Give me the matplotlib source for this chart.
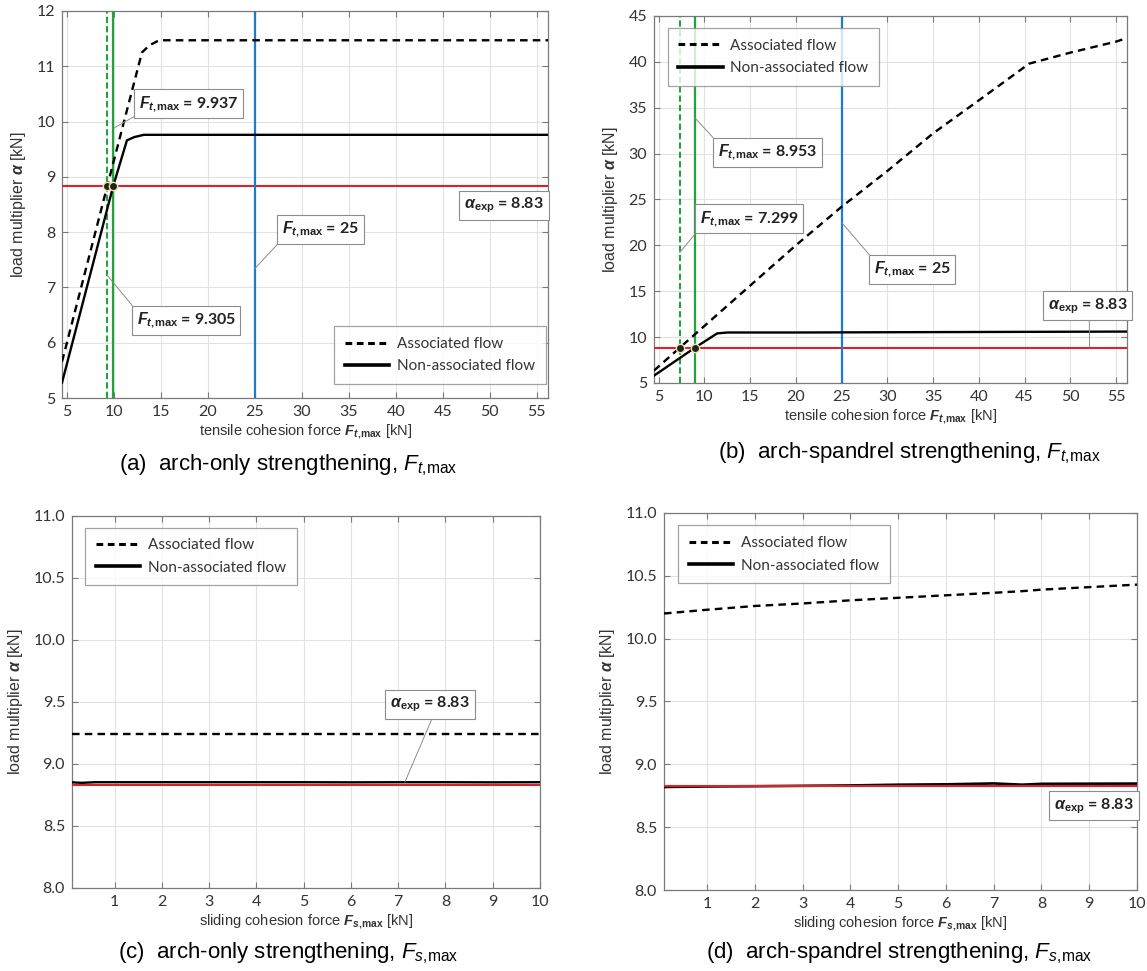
import matplotlib

matplotlib.use("Agg")
import matplotlib.pyplot as plt
from matplotlib.lines import Line2D

plt.rcParams["font.family"] = ["Lato", "DejaVu Sans"]
plt.rcParams["mathtext.fontset"] = "custom"
plt.rcParams["mathtext.rm"] = "Liberation Sans"
plt.rcParams["mathtext.it"] = "Liberation Sans:italic"
plt.rcParams["mathtext.bf"] = "Liberation Sans:bold"
plt.rcParams["mathtext.bfit"] = "Liberation Sans:italic:bold"

# (a) arch-only strengthening, tensile cohesion F_t,max
a_x_assoc = [4.5, 9.305, 13.0, 13.8, 14.6, 15.2, 56.2]
a_y_assoc = [5.66, 8.83, 11.25, 11.38, 11.45, 11.47, 11.47]
a_x_nonassoc = [4.5, 9.937, 11.4, 12.2, 13.2, 56.2]
a_y_nonassoc = [5.28, 8.83, 9.66, 9.72, 9.76, 9.76]

# (b) arch-spandrel strengthening, tensile cohesion F_t,max
b_x_assoc = [4.5, 7.299, 20.0, 25.0, 30.0, 35.0, 40.0, 45.5, 50.0, 55.0, 56.2]
b_y_assoc = [6.35, 8.83, 20.0, 24.2, 28.1, 32.2, 35.8, 39.8, 41.0, 42.2, 42.6]
b_x_nonassoc = [4.5, 8.953, 11.4, 12.5, 20.0, 56.2]
b_y_nonassoc = [5.8, 8.83, 10.4, 10.5, 10.5, 10.6]

# (c) arch-only strengthening, sliding cohesion F_s,max
c_x = [0.1, 0.3, 0.6, 1, 2, 3, 4, 5, 6, 7, 8, 9, 10]
c_y_assoc = [9.245] * 13
c_y_nonassoc = [8.852, 8.848, 8.853, 8.853, 8.853, 8.853, 8.853, 8.853, 8.852, 8.853, 8.853, 8.852, 8.853]

# (d) arch-spandrel strengthening, sliding cohesion F_s,max
d_x = [0.1, 1, 2, 3, 4, 5, 6, 7, 7.6, 8, 9, 10]
d_y_assoc = [10.20, 10.23, 10.26, 10.28, 10.305, 10.325, 10.345, 10.365, 10.378, 10.39, 10.41, 10.43]
d_y_nonassoc = [8.82, 8.824, 8.826, 8.829, 8.832, 8.838, 8.841, 8.848, 8.838, 8.845, 8.846, 8.847]

alpha_exp = 8.83
a_crit = [9.305, 9.937]
b_crit = [7.299, 8.953]
f_ref = 25

GREEN = "#22a33c"
BLUE = "#1a7dcc"
RED = "#d9232b"
DASH = (0, (3.2, 2.2))


def ft(sub):
    return r"$\mathbfit{F}_{\mathbfit{%s}\mathbf{,\!max}}$" % sub


ALPHA_LABEL = r"$\mathbfit{\alpha}_{\mathbf{exp}}$" + " = 8.83"
BOX = dict(boxstyle="square,pad=0.3", fc="white", ec="#8c8c8c", lw=0.8)
LEADER = dict(arrowstyle="-", color="#8c8c8c", lw=0.7, shrinkA=0, shrinkB=0)


def style_axes(ax, xlim, ylim, xticks, yticks, yfmt, xlabel):
    ax.set_xlim(*xlim)
    ax.set_ylim(*ylim)
    ax.set_xticks(xticks)
    ax.set_yticks(yticks)
    ax.set_yticklabels([yfmt.format(v) for v in yticks])
    ax.grid(True, color="#e2e2e2", lw=0.8)
    ax.set_axisbelow(True)
    ax.tick_params(direction="in", top=True, right=True, length=4, width=0.8,
                   color="#7a7a7a", labelsize=11.5, labelcolor="#333333", pad=5)
    for s in ax.spines.values():
        s.set_color("#7a7a7a")
        s.set_linewidth(0.9)
    ax.set_xlabel(xlabel, fontfamily="Liberation Sans", fontsize=10.5, color="#333333", labelpad=3)
    ax.set_ylabel(r"load multiplier $\mathbfit{\alpha}$ [kN]", fontfamily="Liberation Sans",
                  fontsize=11.5, color="#333333", labelpad=6)


def add_legend(ax, loc, anchor):
    handles = [Line2D([], [], color="black", lw=2.2, ls=(0, (2.2, 1.5))),
               Line2D([], [], color="black", lw=2.6)]
    leg = ax.legend(handles, ["Associated flow", "Non-associated flow"], loc=loc,
                    bbox_to_anchor=anchor, fontsize=11, frameon=True, fancybox=False,
                    edgecolor="#8c8c8c", handlelength=2.9, borderpad=0.7, labelspacing=0.55,
                    handletextpad=0.5, borderaxespad=0)
    leg.get_frame().set_linewidth(0.9)
    for t in leg.get_texts():
        t.set_color("#333333")


def box(ax, text, xy_box, xy_line=None, relpos=(0, 0)):
    kw = dict(ha="center", va="center", fontsize=11.5, fontweight="bold", color="#222222",
              bbox=BOX, zorder=6)
    if xy_line is None:
        ax.text(xy_box[0], xy_box[1], text, **kw)
    else:
        ax.annotate(text, xy=xy_line, xytext=xy_box,
                    arrowprops=dict(LEADER, relpos=relpos), **kw)


fig = plt.figure(figsize=(11.47, 9.71), dpi=100)
ax_a = fig.add_axes([0.0541, 0.5901, 0.4237, 0.3986])
ax_b = fig.add_axes([0.5702, 0.6056, 0.4124, 0.3780])
ax_c = fig.add_axes([0.0628, 0.0855, 0.4080, 0.3831])
ax_d = fig.add_axes([0.5789, 0.0834, 0.4124, 0.3883])

xt_t = list(range(5, 56, 5))
xt_s = list(range(1, 11))
lab_t = "tensile cohesion force " + ft("t") + " [kN]"
lab_s = "sliding cohesion force " + ft("s") + " [kN]"

# (a)
ax = ax_a
ax.plot(a_x_assoc, a_y_assoc, color="black", lw=1.7, ls=DASH, zorder=4)
ax.plot(a_x_nonassoc, a_y_nonassoc, color="black", lw=1.7, zorder=4)
ax.axhline(alpha_exp, color=RED, lw=1.5, zorder=3)
ax.axvline(a_crit[0], color=GREEN, lw=1.5, ls=(0, (3, 1.5)), zorder=3)
ax.axvline(a_crit[1], color=GREEN, lw=1.6, zorder=3)
ax.axvline(f_ref, color=BLUE, lw=1.6, zorder=3)
ax.plot(a_crit, [alpha_exp] * 2, "o", color="#222222", mec="#efe6a8", mew=1.0, ms=6, zorder=5)
style_axes(ax, (4.5, 56.2), (5, 12), xt_t, list(range(5, 13)), "{:d}", lab_t)
add_legend(ax, "lower left", (0.56, 0.036))
box(ax, ft("t") + " = 9.937", (18.0, 10.32), (9.99, 9.88), (0, 0))
box(ax, ft("t") + " = 9.305", (17.7, 6.4), (9.305, 7.22), (0, 1))
box(ax, ft("t") + " = 25", (32.0, 8.05), (25, 7.34), (0, 0))
box(ax, ALPHA_LABEL, (51.5, 8.48))

# (b)
ax = ax_b
ax.plot(b_x_assoc, b_y_assoc, color="black", lw=1.7, ls=DASH, zorder=4)
ax.plot(b_x_nonassoc, b_y_nonassoc, color="black", lw=1.7, zorder=4)
ax.axhline(alpha_exp, color=RED, lw=1.5, zorder=3)
ax.axvline(b_crit[0], color=GREEN, lw=1.5, ls=(0, (3, 1.5)), zorder=3)
ax.axvline(b_crit[1], color=GREEN, lw=1.6, zorder=3)
ax.axvline(f_ref, color=BLUE, lw=1.6, zorder=3)
ax.plot(b_crit, [alpha_exp] * 2, "o", color="#222222", mec="#efe6a8", mew=1.0, ms=6, zorder=5)
style_axes(ax, (4.5, 56.2), (5, 45), xt_t, list(range(5, 46, 5)), "{:d}", lab_t)
add_legend(ax, "upper left", (0.029, 0.967))
box(ax, ft("t") + " = 8.953", (16.9, 30.1), (8.953, 33.9), (0, 1))
box(ax, ft("t") + " = 7.299", (14.9, 22.9), (7.299, 19.2), (0, 0))
box(ax, ft("t") + " = 25", (32.7, 17.35), (25, 22.5), (0, 1))
box(ax, ALPHA_LABEL, (51.9, 13.4), (52.1, 8.9), (0.52, 0))

# (c)
ax = ax_c
ax.axhline(alpha_exp, color=RED, lw=1.5, zorder=3)
ax.plot(c_x, c_y_assoc, color="black", lw=1.7, ls=DASH, zorder=4)
ax.plot(c_x, c_y_nonassoc, color="black", lw=1.7, zorder=4)
style_axes(ax, (0.1, 10), (8, 11), xt_s, [8.0, 8.5, 9.0, 9.5, 10.0, 10.5, 11.0], "{:.1f}", lab_s)
add_legend(ax, "upper left", (0.028, 0.969))
box(ax, ALPHA_LABEL, (7.67, 9.48), (7.14, 8.853), (0.55, 0))

# (d)
ax = ax_d
ax.plot(d_x, d_y_assoc, color="black", lw=1.7, ls=DASH, zorder=4)
ax.plot(d_x, d_y_nonassoc, color="black", lw=1.9, zorder=4)
ax.axhline(alpha_exp, color=RED, lw=1.5, zorder=5)
style_axes(ax, (0.1, 10), (8, 11), xt_s, [8.0, 8.5, 9.0, 9.5, 10.0, 10.5, 11.0], "{:.1f}", lab_s)
add_legend(ax, "upper left", (0.03, 0.967))
box(ax, ALPHA_LABEL, (9.1, 8.67))

captions = [
    (0.251, 1 - 465 / 971, r"(a)  arch-only strengthening, $\mathit{F}_{\mathit{t}\mathrm{,\!max}}$"),
    (0.793, 1 - 453 / 971, r"(b)  arch-spandrel strengthening, $\mathit{F}_{\mathit{t}\mathrm{,\!max}}$"),
    (0.251, 1 - 953 / 971, r"(c)  arch-only strengthening, $\mathit{F}_{\mathit{s}\mathrm{,\!max}}$"),
    (0.784, 1 - 953 / 971, r"(d)  arch-spandrel strengthening, $\mathit{F}_{\mathit{s}\mathrm{,\!max}}$"),
]
for x, y, text in captions:
    fig.text(x, y, text, ha="center", va="center", fontsize=16, fontfamily="Liberation Sans")

fig.savefig("out.png", dpi=100)
